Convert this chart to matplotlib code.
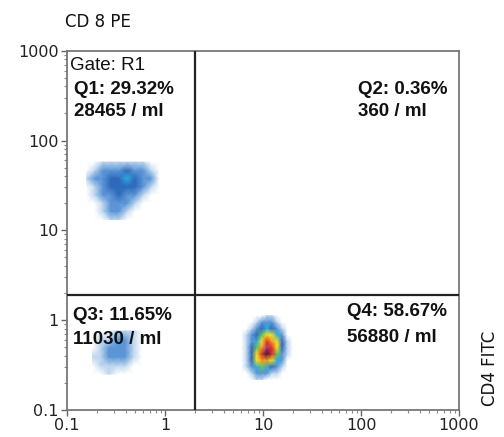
import numpy as np
import matplotlib
matplotlib.use("Agg")
import matplotlib.pyplot as plt
from matplotlib.colors import LinearSegmentedColormap

# ---- data ----
tick_values = [0.1, 1, 10, 100, 1000]
tick_labels = ["0.1", "1", "10", "100", "1000"]
gate_x = 2.0     # vertical quadrant line (CD4)
gate_y = 1.93    # horizontal quadrant line (CD8)

# density grids (rows: top -> bottom, i.e. high CD8 first), log10 extents
q1_xrange = (-0.80, -0.06)
q1_yrange = (1.12, 1.76)
q1_density = [
    [0, 0, 1, 1, 1, 1, 1, 1, 0, 0],
    [0, 1, 2, 2, 2, 3, 2, 2, 1, 0],
    [1, 2, 2, 3, 3, 4, 3, 2, 2, 0],
    [0, 1, 2, 3, 3, 3, 3, 2, 1, 0],
    [0, 1, 2, 2, 3, 2, 2, 1, 0, 0],
    [0, 0, 1, 2, 2, 2, 1, 0, 0, 0],
    [0, 0, 1, 2, 2, 1, 0, 0, 0, 0],
    [0, 0, 0, 1, 1, 0, 0, 0, 0, 0],
]

q3_xrange = (-0.74, -0.24)
q3_yrange = (-0.60, -0.12)
q3_density = [
    [0, 0, 0, 1, 1, 1, 0],
    [0, 1, 1, 2, 2, 1, 0],
    [0, 1, 2, 2, 2, 1, 0],
    [1, 1, 2, 2, 2, 1, 0],
    [0, 1, 1, 1, 1, 0, 0],
    [0, 0, 1, 0, 0, 0, 0],
]

q4_xrange = (0.78, 1.30)
q4_yrange = (-0.66, 0.05)
q4_density = [
    [0, 0, 0, 0, 0, 1, 1, 0, 0, 0, 0],
    [0, 0, 0, 1, 2, 2, 2, 1, 0, 0, 0],
    [0, 0, 1, 2, 3, 4, 3, 2, 1, 0, 0],
    [0, 1, 2, 3, 5, 6, 6, 4, 2, 0, 0],
    [0, 1, 2, 4, 6, 8, 7, 6, 3, 1, 0],
    [0, 1, 3, 5, 7, 9, 8, 6, 3, 1, 0],
    [0, 1, 3, 6, 8, 10, 8, 5, 2, 1, 0],
    [0, 1, 3, 6, 7, 7, 6, 4, 2, 0, 0],
    [0, 1, 2, 4, 5, 4, 3, 2, 1, 0, 0],
    [0, 0, 1, 2, 2, 2, 1, 1, 0, 0, 0],
    [0, 0, 0, 1, 1, 0, 0, 0, 0, 0, 0],
]

quadrant_texts = {
    "Q1": ["Q1: 29.32%", "28465 / ml"],
    "Q2": ["Q2: 0.36%", "360 / ml"],
    "Q3": ["Q3: 11.65%", "11030 / ml"],
    "Q4": ["Q4: 58.67%", "56880 / ml"],
}

# ---- figure ----
W, H = 504, 437
fig = plt.figure(figsize=(W / 100, H / 100), dpi=100)
ax_l, ax_r, ax_t, ax_b = 67, 459, 50.7, 410
ax = fig.add_axes([ax_l / W, 1 - ax_b / H, (ax_r - ax_l) / W, (ax_b - ax_t) / H])
ax.set_xscale("log")
ax.set_yscale("log")
ax.set_xlim(0.1, 1000)
ax.set_ylim(0.1, 1000)

cmap = LinearSegmentedColormap.from_list(
    "flow",
    [(0.0, "#ffffff"), (0.1, "#bcd5ee"), (0.2, "#5b95d6"), (0.3, "#2d68ba"),
     (0.4, "#2aaee0"), (0.5, "#66c25a"), (0.6, "#f2e42a"), (0.7, "#f4a122"),
     (0.8, "#e2301f"), (0.9, "#b22f86"), (1.0, "#3b173f")],
)


def draw_cluster(xr, yr, dens):
    d = np.array(dens, dtype=float)[::-1]
    ny, nx = d.shape
    xs = 10 ** np.linspace(xr[0], xr[1], nx)
    ys = 10 ** np.linspace(yr[0], yr[1], ny)
    ax.pcolormesh(xs, ys, d, shading="gouraud", cmap=cmap, vmin=0, vmax=10,
                  zorder=1, rasterized=True)


draw_cluster(q1_xrange, q1_yrange, q1_density)
draw_cluster(q3_xrange, q3_yrange, q3_density)
draw_cluster(q4_xrange, q4_yrange, q4_density)

# quadrant lines
ax.axvline(gate_x, color="#222222", lw=1.6, zorder=3)
ax.axhline(gate_y, color="#222222", lw=1.6, zorder=3)

# spines / ticks
for s in ax.spines.values():
    s.set_color("#777777")
    s.set_linewidth(1.3)
ax.set_xticks(tick_values)
ax.set_xticklabels(tick_labels)
ax.set_yticks(tick_values)
ax.set_yticklabels(tick_labels)
ax.tick_params(which="major", direction="out", length=4, width=1, color="#666666",
               labelsize=11.5, pad=2, labelcolor="#222222")
ax.tick_params(which="minor", direction="out", length=2.5, width=0.8, color="#888888")
for lab in ax.get_xticklabels() + ax.get_yticklabels():
    lab.set_family("DejaVu Sans")

# quadrant texts
def px2ax(px, py):
    return (px - ax_l) / (ax_r - ax_l), (ax_b - py) / (ax_b - ax_t)

fp = dict(family="Liberation Sans", fontsize=13.5, color="#111111", va="center",
          ha="left", zorder=5)
x, y = px2ax(70, 65)
ax.text(x, y, "Gate: R1", transform=ax.transAxes, **fp)
positions = {
    "Q1": (74, [89, 111]),
    "Q2": (358, [89, 111]),
    "Q3": (73, [315, 339]),
    "Q4": (347, [312, 337]),
}
for key, (px, pys) in positions.items():
    for line, py in zip(quadrant_texts[key], pys):
        x, y = px2ax(px, py)
        ax.text(x, y, line, transform=ax.transAxes, fontweight="bold", **fp)

# axis titles
fig.text(65 / W, 1 - 22 / H, "CD 8 PE", family="DejaVu Sans", fontsize=12,
         ha="left", va="center", color="#111111")
fig.text(490 / W, 1 - 368 / H, "CD4 FITC", family="DejaVu Sans", fontsize=12,
         rotation=90, ha="center", va="center", color="#111111")

fig.savefig("out.png", dpi=100)
